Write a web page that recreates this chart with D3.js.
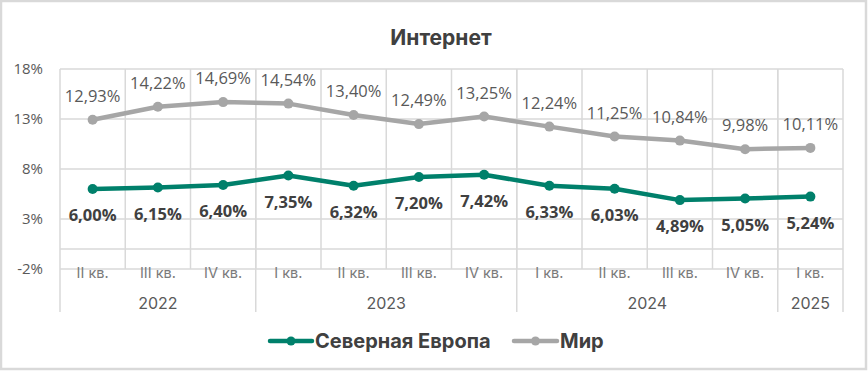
<!DOCTYPE html>
<html>
<head>
<meta charset="utf-8">
<script src="https://cdn.jsdelivr.net/npm/d3@7"></script>
<style>
  html, body { margin: 0; padding: 0; background: #fff; }
  #chart { width: 868px; height: 372px; }
</style>
</head>
<body>
<div id="chart"></div>
<script>
// data
const quarters = ['II кв.', 'III кв.', 'IV кв.', 'I кв.', 'II кв.', 'III кв.', 'IV кв.', 'I кв.', 'II кв.', 'III кв.', 'IV кв.', 'I кв.'];
const years = ['2022', '2022', '2022', '2023', '2023', '2023', '2023', '2024', '2024', '2024', '2024', '2025'];
const northEurope = [6.00, 6.15, 6.40, 7.35, 6.32, 7.20, 7.42, 6.33, 6.03, 4.89, 5.05, 5.24];
const world = [12.93, 14.22, 14.69, 14.54, 13.40, 12.49, 13.25, 12.24, 11.25, 10.84, 9.98, 10.11];
const yTicks = [-2, 3, 8, 13, 18];
const seriesNames = ['Северная Европа', 'Мир'];

const W = 868, H = 372;
const margin = { top: 69, right: 25, bottom: 103, left: 60 },
    width = W - margin.left - margin.right,
    height = H - margin.top - margin.bottom;

const green = '#00806b', grey = '#a6a6a6', gridC = '#d9d9d9', txt = '#404040';
const labelFont = '"Open Sans", sans-serif';
const headFont = 'Inter, "Noto Sans", sans-serif';

const svg = d3.select('#chart')
    .append('svg')
    .attr('width', W)
    .attr('height', H);

// outer frame
svg.append('rect')
    .attr('x', 1).attr('y', 1)
    .attr('width', W - 3).attr('height', H - 4)
    .attr('fill', '#fff')
    .attr('stroke', gridC)
    .attr('stroke-width', 2.5);

svg.append('text')
    .attr('x', 441).attr('y', 45)
    .attr('text-anchor', 'middle')
    .attr('font-family', headFont)
    .attr('font-weight', 700)
    .attr('font-size', 21)
    .attr('fill', txt)
    .text('Интернет');

const g = svg.append('g')
    .attr('transform', `translate(${margin.left}, ${margin.top})`);

const idx = d3.range(quarters.length);
const x = d3.scaleBand().domain(idx).range([0, width]).padding(0);
const cx = i => x(i) + x.bandwidth() / 2;
const y = d3.scaleLinear().domain([-2, 18]).range([height, 0]);

// horizontal gridlines
g.append('g').selectAll('line')
    .data(yTicks.concat([0]))
    .enter().append('line')
    .attr('x1', 0).attr('x2', width)
    .attr('y1', d => y(d)).attr('y2', d => y(d))
    .attr('stroke', gridC).attr('stroke-width', 1.5);

// vertical lines between quarters
g.append('g').selectAll('line')
    .data(idx.slice(1))
    .enter().append('line')
    .attr('x1', d => x(d)).attr('x2', d => x(d))
    .attr('y1', 0).attr('y2', height)
    .attr('stroke', gridC).attr('stroke-width', 1.5);

// year separators run down through the label rows
const yearBreaks = [0].concat(idx.filter(i => i > 0 && years[i] !== years[i - 1]), [quarters.length]);
g.append('g').selectAll('line')
    .data(yearBreaks)
    .enter().append('line')
    .attr('x1', d => d === quarters.length ? width : x(d))
    .attr('x2', d => d === quarters.length ? width : x(d))
    .attr('y1', 0).attr('y2', height + 43)
    .attr('stroke', gridC).attr('stroke-width', 1.5);

// y axis labels
g.append('g').selectAll('text')
    .data(yTicks)
    .enter().append('text')
    .attr('x', -17).attr('y', d => y(d) + 5)
    .attr('text-anchor', 'end')
    .attr('font-family', labelFont)
    .attr('font-size', 15)
    .attr('fill', '#595959')
    .text(d => d + '%');

// quarter labels
g.append('g').selectAll('text')
    .data(idx)
    .enter().append('text')
    .attr('x', d => cx(d)).attr('y', height + 9)
    .attr('text-anchor', 'middle')
    .attr('font-family', headFont)
    .attr('font-size', 14.5)
    .attr('fill', '#7a7a7a')
    .text(d => quarters[d]);

// year labels, centred on their group
const yearGroups = d3.groups(idx, i => years[i]);
g.append('g').selectAll('text')
    .data(yearGroups)
    .enter().append('text')
    .attr('x', d => (x(d[1][0]) + x(d[1][d[1].length - 1]) + x.bandwidth()) / 2)
    .attr('y', height + 40)
    .attr('text-anchor', 'middle')
    .attr('font-family', headFont)
    .attr('font-size', 16)
    .attr('fill', '#595959')
    .text(d => d[0]);

const line = d3.line().x((d, i) => cx(i)).y(d => y(d));

function drawSeries(values, color, labelDy, bold, labelColor) {
    g.append('path')
        .datum(values)
        .attr('d', line)
        .attr('fill', 'none')
        .attr('stroke', color)
        .attr('stroke-width', 4.5)
        .attr('stroke-linejoin', 'round');
    g.append('g').selectAll('circle')
        .data(values)
        .enter().append('circle')
        .attr('cx', (d, i) => cx(i)).attr('cy', d => y(d))
        .attr('r', 5)
        .attr('fill', color);
    g.append('g').selectAll('text')
        .data(values)
        .enter().append('text')
        .attr('x', (d, i) => cx(i)).attr('y', d => y(d) + labelDy)
        .attr('text-anchor', 'middle')
        .attr('font-family', labelFont)
        .attr('font-size', 16.5)
        .attr('font-weight', bold ? 700 : 400)
        .attr('fill', labelColor)
        .text(d => d.toFixed(2).replace('.', ',') + '%');
}

drawSeries(world, grey, -18, false, '#595959');
drawSeries(northEurope, green, 32, true, txt);

// legend
const legend = svg.append('g').attr('transform', 'translate(0, 341)');
const legendItems = [
    { name: seriesNames[0], color: green, x0: 270, x1: 312 },
    { name: seriesNames[1], color: grey, x0: 514, x1: 557 }
];
legendItems.forEach(function (d) {
    legend.append('line')
        .attr('x1', d.x0).attr('x2', d.x1)
        .attr('stroke', d.color).attr('stroke-width', 4.5)
        .attr('stroke-linecap', 'round');
    legend.append('circle')
        .attr('cx', (d.x0 + d.x1) / 2).attr('r', 4.5)
        .attr('fill', d.color);
    legend.append('text')
        .attr('x', d.x1 + 3).attr('y', 7)
        .attr('font-family', headFont)
        .attr('font-weight', 700)
        .attr('font-size', 20)
        .attr('fill', txt)
        .text(d.name);
});
</script>
</body>
</html>
